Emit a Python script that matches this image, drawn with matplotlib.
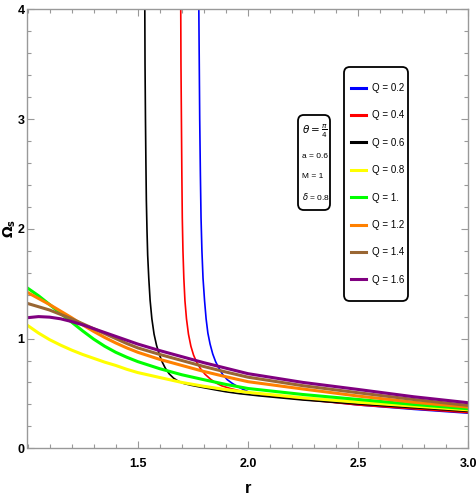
import matplotlib
matplotlib.use("Agg")
import matplotlib.pyplot as plt
from matplotlib.patches import FancyBboxPatch
from matplotlib.ticker import MultipleLocator

plt.rcParams['font.family'] = ['Liberation Sans', 'DejaVu Sans']

labels = ["Q = 0.2", "Q = 0.4", "Q = 0.6", "Q = 0.8", "Q = 1.", "Q = 1.2", "Q = 1.4", "Q = 1.6"]
colors = ["#0000ff", "#ff0000", "#000000", "#ffff00", "#00ff00", "#ff8000", "#996633", "#800080"]

r_q02 = [1.777, 1.779, 1.781, 1.784, 1.787, 1.791, 1.796, 1.803, 1.810, 1.818, 1.828, 1.840, 1.853,
         1.868, 1.886, 1.906, 1.930, 1.955, 1.980, 2.010, 2.10, 2.25, 2.5, 2.75, 3.0]
w_q02 = [4.0, 3.5, 3.0, 2.5, 2.1, 1.8, 1.55, 1.345, 1.18, 1.05, 0.95, 0.86, 0.79,
         0.73, 0.67, 0.625, 0.59, 0.56, 0.535, 0.507, 0.48, 0.45, 0.395, 0.355, 0.32]

r_q04 = [1.695, 1.696, 1.698, 1.700, 1.702, 1.705, 1.709, 1.714, 1.721, 1.730, 1.741, 1.753, 1.767,
         1.783, 1.805, 1.830, 1.855, 1.880, 1.920, 1.960, 2.0, 2.1, 2.25, 2.5, 2.75, 3.0]
w_q04 = [4.0, 3.5, 3.0, 2.5, 2.1, 1.8, 1.55, 1.345, 1.18, 1.04, 0.93, 0.85, 0.785,
         0.73, 0.675, 0.63, 0.595, 0.57, 0.545, 0.525, 0.505, 0.48, 0.445, 0.395, 0.36, 0.325]

r_q06 = [1.532, 1.533, 1.535, 1.537, 1.539, 1.542, 1.545, 1.550, 1.556, 1.564, 1.574, 1.585, 1.597,
         1.610, 1.625, 1.642, 1.662, 1.685, 1.710, 1.740, 1.770, 1.810, 1.850, 1.900, 1.960, 2.05,
         2.25, 2.5, 2.75, 3.0]
w_q06 = [4.0, 3.5, 3.0, 2.6, 2.26, 1.98, 1.76, 1.55, 1.35, 1.18, 1.04, 0.94, 0.86,
         0.79, 0.73, 0.68, 0.64, 0.61, 0.59, 0.575, 0.563, 0.548, 0.533, 0.515, 0.498, 0.478,
         0.44, 0.403, 0.37, 0.336]

r_grid = [1.0, 1.05, 1.1, 1.15, 1.2, 1.25, 1.3, 1.35, 1.4, 1.45, 1.5, 1.6, 1.7, 1.8, 1.9, 2.0,
          2.25, 2.5, 2.75, 3.0]
w_q08 = [1.12, 1.05, 0.99, 0.94, 0.895, 0.855, 0.82, 0.785, 0.755, 0.72, 0.69, 0.645, 0.60, 0.565,
         0.535, 0.51, 0.46, 0.42, 0.385, 0.35]
w_q10 = [1.46, 1.39, 1.31, 1.23, 1.15, 1.07, 0.995, 0.93, 0.875, 0.83, 0.79, 0.725, 0.67, 0.625,
         0.582, 0.545, 0.49, 0.445, 0.40, 0.36]
w_q12 = [1.42, 1.365, 1.31, 1.25, 1.19, 1.125, 1.065, 1.01, 0.96, 0.915, 0.875, 0.81, 0.755, 0.70,
         0.652, 0.607, 0.54, 0.476, 0.42, 0.375]
w_q14 = [1.32, 1.29, 1.26, 1.22, 1.18, 1.135, 1.09, 1.045, 1.0, 0.955, 0.915, 0.855, 0.80, 0.745,
         0.695, 0.648, 0.57, 0.506, 0.445, 0.39]
w_q16 = [1.19, 1.20, 1.195, 1.18, 1.155, 1.125, 1.09, 1.055, 1.02, 0.985, 0.95, 0.89, 0.835, 0.78,
         0.73, 0.68, 0.60, 0.536, 0.47, 0.415]

series = [(r_q02, w_q02), (r_q04, w_q04), (r_q06, w_q06), (r_grid, w_q08),
          (r_grid, w_q10), (r_grid, w_q12), (r_grid, w_q14), (r_grid, w_q16)]
widths = [1.2, 1.2, 1.2, 2.2, 2.2, 2.2, 2.2, 2.2]

W, H = 477, 504
fig = plt.figure(figsize=(W / 100, H / 100), dpi=100)
ax = fig.add_axes([27.5 / W, 1 - 448.3 / H, (468.5 - 27.5) / W, (448.3 - 9.3) / H])

handles = []
for (rr, ww), c, lw, lab in zip(series, colors, widths, labels):
    ln, = ax.plot(rr, ww, color=c, lw=lw, label=lab, solid_joinstyle='round')
    handles.append(ln)

ax.set_xlim(1.0, 3.0)
ax.set_ylim(0, 4)
ax.set_xticks([1.5, 2.0, 2.5, 3.0])
ax.set_xticklabels(["1.5", "2.0", "2.5", "3.0"])
ax.set_yticks([0, 1, 2, 3, 4])
ax.xaxis.set_minor_locator(MultipleLocator(0.1))
ax.yaxis.set_minor_locator(MultipleLocator(0.2))
gray = "#999999"
for s in ax.spines.values():
    s.set_color(gray)
    s.set_linewidth(1.0)
ax.tick_params(which='both', direction='in', top=True, right=True, color=gray, width=0.8)
ax.tick_params(which='major', length=5)
ax.tick_params(which='minor', length=3)
ax.tick_params(axis='x', pad=7, labelsize=9)
ax.tick_params(axis='y', pad=2, labelsize=9)
for t in ax.get_xticklabels() + ax.get_yticklabels():
    t.set_fontweight('bold')

ax.set_xlabel("r", fontsize=12, fontweight='bold', labelpad=8)
ax.set_ylabel(r"$\mathbf{\Omega_s}$", fontsize=10)
ax.yaxis.set_label_coords((17.5 - 27.5) / 441, 0.5)

# legend frame and entries
lx0, ly0, lx1, ly1 = 344, 67, 408, 301
lframe = FancyBboxPatch((lx0 / W, 1 - ly1 / H), (lx1 - lx0) / W, (ly1 - ly0) / H,
                        boxstyle="round,pad=0,rounding_size=0.012", transform=fig.transFigure,
                        facecolor='white', edgecolor='black', lw=1.3, zorder=4)
fig.patches.append(lframe)
leg = fig.legend(handles=handles, loc='upper left', bbox_to_anchor=(351 / W, 1 - 83 / H),
                 frameon=False, fontsize=7, handlelength=1.55, handletextpad=0.6,
                 labelspacing=1.79, borderpad=0, borderaxespad=0)
leg.set_zorder(5)
for h in leg.get_lines():
    h.set_linewidth(2.2)

# parameter box
bx0, by0, bx1, by1 = 298, 115, 330, 210
box = FancyBboxPatch((bx0 / W, 1 - by1 / H), (bx1 - bx0) / W, (by1 - by0) / H,
                     boxstyle="round,pad=0,rounding_size=0.012", transform=fig.transFigure,
                     facecolor='white', edgecolor='black', lw=1.3, zorder=4)
fig.patches.append(box)
tx = 302 / W
fig.text(tx, 1 - 131 / H, r"$\theta = \frac{\pi}{4}$", fontsize=7.5, va='center', ha='left', zorder=6)
fig.text(tx, 1 - 156 / H, "a = 0.6", fontsize=6, va='center', ha='left', zorder=6)
fig.text(tx, 1 - 176.5 / H, "M = 1", fontsize=6, va='center', ha='left', zorder=6)
fig.text(tx, 1 - 196.5 / H, r"$\delta$ = 0.8", fontsize=6, va='center', ha='left', zorder=6)

fig.savefig("out.png", dpi=100)
